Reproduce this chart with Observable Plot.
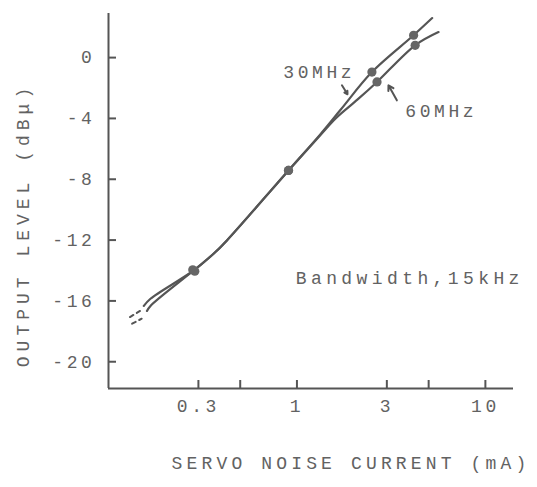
<!DOCTYPE html>
<html><head><meta charset="utf-8">
<script src="https://cdn.jsdelivr.net/npm/d3@7"></script>
<script src="https://cdn.jsdelivr.net/npm/@observablehq/plot@0.6"></script>
<style>
body{margin:0;background:#fff;}
</style></head><body><div id="chart"></div>
<script>
// Curves (servo noise current in mA, output level in dBμ)
const current30 = [0.154, 0.167, 0.283, 0.361, 0.425, 0.902, 1.33, 1.70, 2.5, 4.16, 5.22];
const level30   = [-16.33, -15.86, -14.0, -12.9, -12.02, -7.42, -5.05, -3.45, -0.95, 1.47, 2.6];
const current60 = [0.16, 0.167, 0.283, 0.361, 0.425, 0.902, 1.33, 1.62, 2.1, 2.66, 4.24, 5.64];
const level60   = [-16.66, -16.33, -14.0, -12.9, -12.02, -7.42, -5.1, -3.95, -2.75, -1.6, 0.81, 1.68];
// Dashed extrapolations at the low end
const dashCurrent30 = [0.13, 0.147];
const dashLevel30   = [-17.06, -16.66];
const dashCurrent60 = [0.1335, 0.15];
const dashLevel60   = [-17.5, -17.17];
// Measured points
const dotCurrent30 = [0.28, 0.902, 2.5, 4.16];
const dotLevel30   = [-13.95, -7.42, -0.95, 1.47];
const dotCurrent60 = [0.287, 0.902, 2.66, 4.24];
const dotLevel60   = [-14.05, -7.42, -1.6, 0.81];
// Axes
const xDomain = [0.1, 14.1];
const yDomain = [-21.76, 2.9];
const xTicks = [0.3, 0.5, 1, 3, 5, 10];
const xTickLabels = [0.3, 1, 3, 10];
const yTicks = [0, -4, -8, -12, -16, -20];
const xTitle = "SERVO NOISE CURRENT (mA)";
const yTitle = "OUTPUT LEVEL (dBμ)";
// Annotations (data coordinates)
const noteText = ["30MHz", "60MHz", "Bandwidth,15kHz"];
const noteCurrent = [1.313, 5.83, 3.97];
const noteLevel = [-0.97, -3.53, -14.52];
const arrowFrom = [[1.733, -1.82], [3.39, -2.81]];
const arrowTo   = [[1.855, -2.41], [3.06, -1.82]];

const rows = (xs, ys) => xs.map((x, i) => ({x, y: ys[i]}));
const ink = "#555";
const textInk = "#626262";

const chart = Plot.plot({
  width: 537, height: 487,
  marginLeft: 108, marginRight: 24, marginTop: 13, marginBottom: 99,
  style: {fontFamily: "'Liberation Mono', monospace", fontSize: "18px", letterSpacing: "3.6px", color: textInk, background: "#fff"},
  x: {type: "log", domain: xDomain, label: null},
  y: {domain: yDomain, label: null},
  marks: [
    Plot.ruleX([xDomain[0]], {stroke: ink, strokeWidth: 2}),
    Plot.ruleY([yDomain[0]], {stroke: ink, strokeWidth: 2}),
    Plot.axisY({ticks: yTicks, tickSize: 8, dx: 8, tickFormat: () => "", stroke: ink, strokeWidth: 2, label: null}),
    Plot.axisY({ticks: yTicks, tickSize: 0, tickPadding: 13, tickFormat: d => String(d), fill: textInk, label: null}),
    Plot.axisX({ticks: xTicks, tickSize: 8, dy: -8, tickFormat: () => "", stroke: ink, strokeWidth: 2, label: null}),
    Plot.axisX({ticks: xTickLabels, tickSize: 0, tickPadding: 11, tickFormat: d => String(d), fill: textInk, label: null}),
    Plot.line(rows(current30, level30), {x: "x", y: "y", curve: "catmull-rom", stroke: ink, strokeWidth: 2.2}),
    Plot.line(rows(current60, level60), {x: "x", y: "y", curve: "catmull-rom", stroke: ink, strokeWidth: 2.2}),
    Plot.line(rows(dashCurrent30, dashLevel30), {x: "x", y: "y", stroke: ink, strokeWidth: 2, strokeDasharray: "4,4"}),
    Plot.line(rows(dashCurrent60, dashLevel60), {x: "x", y: "y", stroke: ink, strokeWidth: 2, strokeDasharray: "4,4"}),
    Plot.dot(rows(dotCurrent30, dotLevel30), {x: "x", y: "y", r: 4.6, fill: "#666"}),
    Plot.dot(rows(dotCurrent60, dotLevel60), {x: "x", y: "y", r: 4.6, fill: "#666"}),
    Plot.arrow(arrowFrom.map((a, i) => ({x1: a[0], y1: a[1], x2: arrowTo[i][0], y2: arrowTo[i][1]})),
      {x1: "x1", y1: "y1", x2: "x2", y2: "y2", stroke: ink, strokeWidth: 2, headLength: 6}),
    Plot.text(noteText.map((t, i) => ({t, x: noteCurrent[i], y: noteLevel[i]})), {x: "x", y: "y", text: "t", fill: textInk}),
    Plot.text([xTitle], {frameAnchor: "bottom", textAnchor: "middle", lineAnchor: "middle", dx: 40, dy: 75, fill: textInk}),
    Plot.text([yTitle], {frameAnchor: "left", textAnchor: "middle", lineAnchor: "middle", rotate: -90, dx: -85, dy: 24, fill: textInk})
  ]
});
// per-text letter spacing to match the typewriter pitch
const spacing = new Map([[yTitle, "5px"], [xTitle, "4.15px"], ["Bandwidth,15kHz", "4.4px"]]);
d3.select(chart).selectAll("text").each(function () {
  const s = spacing.get(this.textContent);
  if (s) this.style.letterSpacing = s;
});
document.getElementById("chart").append(chart);
</script>
</body></html>
